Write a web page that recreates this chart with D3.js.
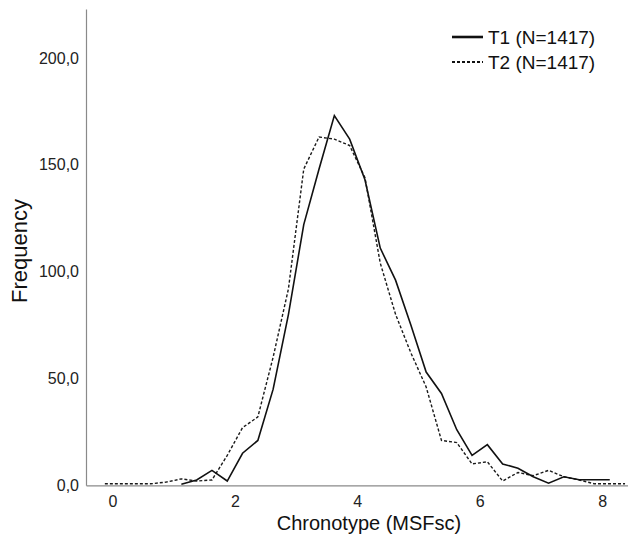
<!DOCTYPE html>
<html>
<head>
<meta charset="utf-8">
<script src="https://cdn.jsdelivr.net/npm/d3@7"></script>
<style>
  html, body { margin: 0; padding: 0; background: #fff; }
  svg { display: block; font-family: Arial, "Liberation Sans", sans-serif; }
</style>
</head>
<body>
<svg id="chart" width="628" height="541"></svg>
<script>
// Bin midpoints (MSFsc) and frequencies
const xT1 = [1.125,1.375,1.625,1.875,2.125,2.375,2.625,2.875,3.125,3.375,3.625,3.875,4.125,4.375,4.625,4.875,5.125,5.375,5.625,5.875,6.125,6.375,6.625,6.875,7.125,7.375,7.625,7.875,8.125];
const yT1 = [0.5,2.5,7,2,15,21,45,80,122,148,173,162,143,111,96,75,53,43,26,14,19,10,8,4,1,4,2.6,2.6,2.6];
const xT2 = [-0.125,0.125,0.375,0.625,0.875,1.125,1.375,1.625,1.875,2.125,2.375,2.625,2.875,3.125,3.375,3.625,3.875,4.125,4.375,4.625,4.875,5.125,5.375,5.625,5.875,6.125,6.375,6.625,6.875,7.125,7.375,7.625,7.875,8.125,8.375];
const yT2 = [0.7,0.7,0.7,0.7,1.5,3,2,2.5,14,27,32,60,92,148,163,162,159,144,104,80,62,46,21,20,10,11,2,6,4.5,7,4,2.5,0.7,0.7,0.7];
const xTicks = [0,2,4,6,8];
const yTicks = [0,50,100,150,200];
const seriesNames = ["T1 (N=1417)", "T2 (N=1417)"];
const xTitle = "Chronotype (MSFsc)";
const yTitle = "Frequency";

const svg = d3.select("#chart");
const x = d3.scaleLinear().domain([-0.433, 8.423]).range([86, 628]);
const y = d3.scaleLinear().domain([0, 222.9]).range([485.3, 9]);

const fmt = d => d.toFixed(1).replace(".", ",");

// Axes
const gx = svg.append("g").attr("transform", `translate(0,${y(0)})`)
  .call(d3.axisBottom(x).tickValues(xTicks).tickSize(0).tickPadding(10).tickFormat(d3.format("d")));
const gy = svg.append("g").attr("transform", `translate(${x.range()[0]},0)`)
  .call(d3.axisLeft(y).tickValues(yTicks).tickSize(0).tickPadding(7).tickFormat(fmt));
[gx, gy].forEach(g => {
  g.select(".domain").attr("stroke", "#8a8a8a").attr("stroke-width", 1.2);
  g.selectAll("text").attr("font-size", 16).attr("fill", "#222")
    .attr("font-family", "Arial, 'Liberation Sans', sans-serif");
});

// Lines
const line = d3.line().x(d => x(d[0])).y(d => y(d[1]));
const d1 = xT1.map((v, i) => [v, yT1[i]]);
const d2 = xT2.map((v, i) => [v, yT2[i]]);
svg.append("path").datum(d2).attr("d", line).attr("fill", "none")
  .attr("stroke", "#1a1a1a").attr("stroke-width", 1.4).attr("stroke-dasharray", "3,2");
svg.append("path").datum(d1).attr("d", line).attr("fill", "none")
  .attr("stroke", "#111").attr("stroke-width", 1.6);

// Axis titles
svg.append("text").attr("x", 369).attr("y", 530).attr("text-anchor", "middle")
  .attr("font-size", 20).attr("fill", "#111").text(xTitle);
svg.append("text").attr("transform", "translate(27,251) rotate(-90)").attr("text-anchor", "middle")
  .attr("font-size", 22).attr("fill", "#111").text(yTitle);

// Legend
const legend = svg.append("g");
const rows = [{name: seriesNames[0], dash: null, yy: 37}, {name: seriesNames[1], dash: "3,2", yy: 62}];
rows.forEach(r => {
  legend.append("line").attr("x1", 452).attr("x2", 483).attr("y1", r.yy).attr("y2", r.yy)
    .attr("stroke", "#111").attr("stroke-width", r.dash ? 2 : 2.6)
    .attr("stroke-dasharray", r.dash);
  legend.append("text").attr("x", 488).attr("y", r.yy).attr("dy", "0.36em")
    .attr("font-size", 19).attr("fill", "#111").text(r.name);
});
</script>
</body>
</html>
